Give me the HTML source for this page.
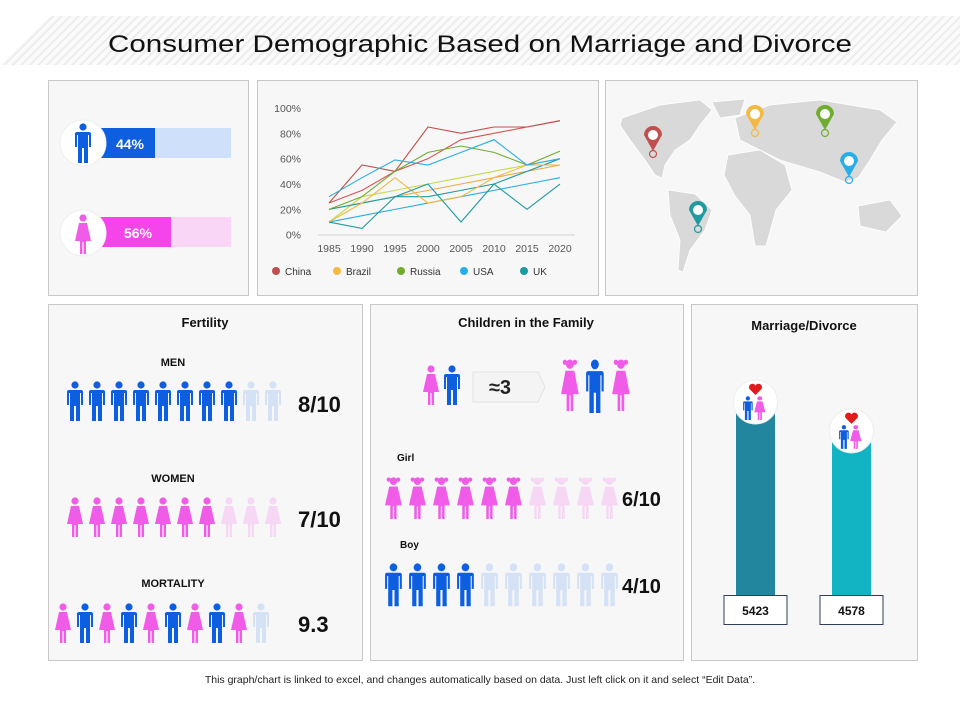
<!DOCTYPE html>
<html><head><meta charset="utf-8"><style>
html,body{margin:0;padding:0;background:#fff;}
svg{display:block;}
svg text{font-family:"Liberation Sans",Arial,sans-serif;}
</style></head><body>
<svg id="root" width="960" height="720" viewBox="0 0 960 720" xmlns="http://www.w3.org/2000/svg">
<defs>
<pattern id="stripes" width="6" height="6" patternUnits="userSpaceOnUse" patternTransform="rotate(45)">
<rect width="6" height="6" fill="#fbfbfb"/><rect width="2" height="6" fill="#ececec"/>
</pattern>
<g id="man"><circle cx="9" cy="4" r="3.6"/><path d="M3,9 H15 Q17,9 17,11 V24 H15 V12 H14 V40 H10 V25 H8 V40 H4 V12 H3 V24 H1 V11 Q1,9 3,9 Z"/></g>
<g id="woman"><circle cx="9" cy="4" r="3.6"/><path d="M5,9 H13 L17,27 H12 V40 H9.6 V28 H8.4 V40 H6 V27 H1 Z"/></g>
<g id="girl"><circle cx="9" cy="4" r="3.6"/><circle cx="4.5" cy="2.5" r="2"/><circle cx="13.5" cy="2.5" r="2"/><path d="M5,9 H13 L17,27 H12 V40 H9.6 V28 H8.4 V40 H6 V27 H1 Z"/></g>
</defs>
<polygon points="0,65 50,16 960,16 960,65" fill="url(#stripes)"/>
<text x="480" y="52" text-anchor="middle" font-size="24" textLength="744" lengthAdjust="spacingAndGlyphs" fill="#111">Consumer Demographic Based on Marriage and Divorce</text>

<g fill="#f7f7f7" stroke="#c8c8c8" stroke-width="1">
<rect x="48.5" y="80.5" width="200" height="215"/>
<rect x="257.5" y="80.5" width="341" height="215"/>
<rect x="605.5" y="80.5" width="312" height="215"/>
<rect x="48.5" y="304.5" width="314" height="356"/>
<rect x="370.5" y="304.5" width="313" height="356"/>
<rect x="691.5" y="304.5" width="226" height="356"/>
</g>

<g>
<rect x="96" y="128" width="135" height="30" fill="#cfe0fb"/>
<rect x="96" y="128" width="59" height="30" fill="#0d5fe0"/>
<circle cx="83" cy="143" r="23" fill="#fff" stroke="#eee"/>
<use href="#man" x="74" y="123" fill="#0d5fe0"/>
<text x="130" y="149" text-anchor="middle" font-size="14" font-weight="bold" fill="#fff">44%</text>
</g>
<g>
<rect x="96" y="217" width="135" height="30" fill="#f9d6f6"/>
<rect x="96" y="217" width="75" height="30" fill="#f544ea"/>
<circle cx="83" cy="233" r="23" fill="#fff" stroke="#eee"/>
<use href="#woman" x="74" y="214" fill="#f05ce8"/>
<text x="138" y="238" text-anchor="middle" font-size="14" font-weight="bold" fill="#fff">56%</text>
</g>

<g id="linechart"></g>

<g fill="#d9d9d9" stroke="#fff" stroke-width="0.8">
<polygon points="622,118 660,105 700,100 712,110 700,125 690,140 675,150 665,165 662,178 655,175 645,160 630,140 620,125"/>
<polygon points="712,102 745,99 740,115 720,118"/>
<polygon points="668,190 695,194 712,210 705,230 690,250 683,272 678,270 680,240 670,215"/>
<polygon points="735,118 770,105 820,100 880,110 897,122 882,140 870,160 858,178 845,182 820,172 800,166 780,160 760,150 740,140"/>
<polygon points="728,155 760,150 785,165 792,190 776,210 766,246 755,246 750,215 735,196 724,175"/>
<polygon points="858,206 890,200 902,216 886,232 860,226"/>
</g>
<g id="pins"></g>

<text x="205" y="327" text-anchor="middle" font-size="13" font-weight="bold" fill="#111">Fertility</text>
<text x="173" y="366" text-anchor="middle" font-size="11" font-weight="bold" fill="#111">MEN</text>
<text x="173" y="482" text-anchor="middle" font-size="11" font-weight="bold" fill="#111">WOMEN</text>
<text x="173" y="587" text-anchor="middle" font-size="11" font-weight="bold" fill="#111">MORTALITY</text>
<g id="fert"></g>
<text x="298" y="412" font-size="22" font-weight="bold" fill="#111">8/10</text>
<text x="298" y="527" font-size="22" font-weight="bold" fill="#111">7/10</text>
<text x="298" y="632" font-size="22" font-weight="bold" fill="#111">9.3</text>

<text x="526" y="327" text-anchor="middle" font-size="13" font-weight="bold" fill="#111">Children in the Family</text>
<use href="#woman" x="422" y="365" fill="#f05ce8"/>
<use href="#man" x="443" y="365" fill="#0d5fe0"/>
<polygon points="473,372 538,372 545,387 538,402 473,402" fill="#f4f4f4" stroke="#e2e2e2"/>
<text x="500" y="394" text-anchor="middle" font-size="20" font-weight="bold" fill="#222">≈3</text>
<g transform="translate(560 359) scale(1.1 1.3)"><use href="#girl" fill="#f05ce8"/></g>
<g transform="translate(585 359) scale(1.1 1.35)"><use href="#man" fill="#0d5fe0"/></g>
<g transform="translate(611 359) scale(1.1 1.3)"><use href="#girl" fill="#f05ce8"/></g>
<text x="397" y="461" font-size="10" font-weight="bold" fill="#111">Girl</text>
<text x="400" y="548" font-size="10" font-weight="bold" fill="#111">Boy</text>
<g id="kids"></g>
<text x="622" y="506" font-size="20" font-weight="bold" fill="#111">6/10</text>
<text x="622" y="593" font-size="20" font-weight="bold" fill="#111">4/10</text>

<text x="804" y="330" text-anchor="middle" font-size="13" font-weight="bold" fill="#111">Marriage/Divorce</text>
<g id="marr"></g>

<text x="480" y="683" text-anchor="middle" font-size="10.5" fill="#222">This graph/chart is linked to excel, and changes automatically based on data. Just left click on it and select “Edit Data”.</text>
</svg>
<script>
const NS='http://www.w3.org/2000/svg';
function mk(tag,attrs,parent){const e=document.createElementNS(NS,tag);for(const k in attrs)e.setAttribute(k,attrs[k]);parent.appendChild(e);return e;}

const years=['1985','1990','1995','2000','2005','2010','2015','2020'];
const yTicks=[0,20,40,60,80,100];
const seriesNames=['China','Brazil','Russia','USA','UK'];
const seriesColors=['#c0504d','#f4b942','#70ad2f','#27aee8','#1e9aa0'];
const chinaVals=[25,55,50,85,80,85,85,90];
const brazilVals=[10,25,45,25,30,45,55,55];
const russiaVals=[20,30,50,65,70,65,55,66];
const usaVals=[30,45,59,55,65,75,55,60];
const ukVals=[10,5,30,40,10,40,20,40];
const chinaTrend=[25,35,50,60,75,80,85,90];
const brazilTrend=[20,25,30,35,40,45,50,55];
const russiaTrend=[10,30,35,40,45,50,55,60];
const usaTrend=[10,15,20,25,30,35,40,45];
const ukTrend=[20,25,30,30,35,40,50,60];
const trendColors=['#d9534f','#f0a94a','#c5d94a','#27aee8','#1e9aa0'];

const lc=document.getElementById('linechart');
const xS=i=>329+i*33, yS=v=>234.7-v*1.267;
yTicks.forEach(t=>{const e=mk('text',{x:301,y:yS(t)+4,'text-anchor':'end','font-size':10.5,fill:'#555'},lc);e.textContent=t+'%';

});
const ax=mk('line',{x1:318,x2:575,y1:235,y2:235,stroke:'#d0d0d0'},lc);


years.forEach((y,i)=>{const e=mk('text',{x:xS(i),y:252,'text-anchor':'middle','font-size':10.5,fill:'#555'},lc);e.textContent=y;

});
const trends=[chinaTrend,brazilTrend,russiaTrend,usaTrend,ukTrend];
const vals=[chinaVals,brazilVals,russiaVals,usaVals,ukVals];
trends.forEach((s,k)=>{const p=mk('polyline',{points:s.map((v,i)=>xS(i)+','+yS(v)).join(' '),fill:'none',stroke:trendColors[k],'stroke-width':1.1},lc);

});
vals.forEach((s,k)=>{const p=mk('polyline',{points:s.map((v,i)=>xS(i)+','+yS(v)).join(' '),fill:'none',stroke:seriesColors[k],'stroke-width':1.1},lc);

});
const legX=[276,337,401,464,524];
seriesNames.forEach((n,k)=>{const g=mk('g',{},lc);


mk('circle',{cx:legX[k],cy:271,r:4,fill:seriesColors[k]},g);
const t=mk('text',{x:legX[k]+9,y:275,'font-size':10,fill:'#333'},g);t.textContent=n;});

const pinColors=['#c0504d','#f4b942','#70ad2f','#27aee8','#1e9aa0'];
const pinPos=[[653,135],[755,114],[825,114],[849,161],[698,210]];
const pg=document.getElementById('pins');
pinPos.forEach((p,k)=>{const g=mk('g',{},pg);


const [x,y]=p;
mk('path',{d:`M${x-9},${y} A9,9 0 1 1 ${x+9},${y} L${x},${y+16} Z`,fill:pinColors[k]},g);
mk('circle',{cx:x,cy:y,r:5,fill:'#fff'},g);
mk('circle',{cx:x,cy:y+19,r:3.5,fill:'none',stroke:pinColors[k],'stroke-width':1.2},g);});

const menFilled=8, womenFilled=7;
const mortalityPattern=['w','m','w','m','w','m','w','m','w','x'];
const fg=document.getElementById('fert');
for(let i=0;i<10;i++){const u=mk('use',{href:'#man',x:66+i*22,y:381,fill:i<menFilled?'#0d5fe0':'#d5e2f6'},fg);

}
for(let i=0;i<10;i++){const u=mk('use',{href:'#woman',x:66+i*22,y:497,fill:i<womenFilled?'#f05ce8':'#f6d8f4'},fg);

}
mortalityPattern.forEach((c,i)=>{const u=mk('use',{href:c==='w'?'#woman':'#man',x:54+i*22,y:603,fill:c==='w'?'#f05ce8':(c==='m'?'#0d5fe0':'#d5e2f6')},fg);

});

const girlFilled=6, boyFilled=4;
const kg=document.getElementById('kids');
for(let i=0;i<10;i++){const u=mk('use',{href:'#girl',x:384+i*24,y:477,fill:i<girlFilled?'#f05ce8':'#f6d8f4',transform:`translate(${384+i*24} 477) scale(1.05 1.05) translate(${-(384+i*24)} -477)`},kg);

}
for(let i=0;i<10;i++){const u=mk('use',{href:'#man',x:384+i*24,y:563,fill:i<boyFilled?'#0d5fe0':'#d5e2f6',transform:`translate(${384+i*24} 563) scale(1.05 1.08) translate(${-(384+i*24)} -563)`},kg);

}

const mdLabels=['Marriage','Divorce'];
const mdValues=[5423,4578];
const mdColors=['#22869e','#12b3c3'];
const mg=document.getElementById('marr');
const base=595, hScale=185/5423, barX=[736,832];
mdValues.forEach((v,k)=>{const h=v*hScale, top=base-h;
const b=mk('rect',{x:barX[k],y:top,width:39,height:h,fill:mdColors[k]},mg);


const cx=barX[k]+19.5, cy=top-8;
const g=mk('g',{},mg);


mk('circle',{cx:cx,cy:cy,r:22,fill:'#fff',stroke:'#eee'},g);
mk('path',{d:`M${cx},${cy-7} l-6,-6 a3.3,3.3 0 0 1 6,-3.5 a3.3,3.3 0 0 1 6,3.5 Z`,fill:'#e01b1b'},g);
mk('use',{href:'#man',x:0,y:0,fill:'#0d5fe0',transform:`translate(${cx-13} ${cy-6}) scale(0.6 0.6)`},g);
mk('use',{href:'#woman',x:0,y:0,fill:'#f05ce8',transform:`translate(${cx-2} ${cy-6}) scale(0.7 0.6)`},g);
const bx=mk('rect',{x:barX[k]-12,y:595.5,width:63,height:29,fill:'#fff',stroke:'#2d3e5e'},mg);


const t=mk('text',{x:cx,y:615,'text-anchor':'middle','font-size':12,'font-weight':'bold',fill:'#111'},mg);t.textContent=v;

});
</script>
</body></html>
